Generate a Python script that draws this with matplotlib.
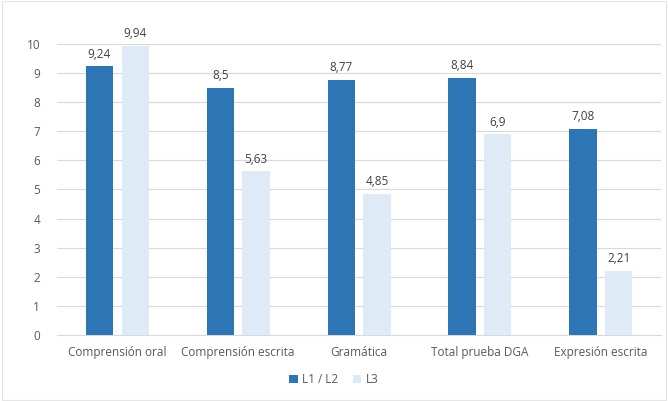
import numpy as np
import matplotlib.pyplot as plt

categories = ['Comprensión oral', 'Comprensión escrita', 'Gramática',
              'Total prueba DGA', 'Expresión escrita']
l1_l2 = [9.24, 8.5, 8.77, 8.84, 7.08]
l3 = [9.94, 5.63, 4.85, 6.9, 2.21]
series_names = ['L1 / L2', 'L3']

plt.rcParams['font.family'] = ['Open Sans', 'DejaVu Sans']
text_color = '#595959'

fig = plt.figure(figsize=(6.68, 4.01), dpi=100)
ax = fig.add_axes([0.085, 0.165, 0.905, 0.725])

x = np.arange(len(categories))
w = 0.225
off = 0.148
b1 = ax.bar(x - off, l1_l2, w, color='#2E75B6', label=series_names[0], zorder=3)
b2 = ax.bar(x + off, l3, w, color='#DEEBF7', label=series_names[1], zorder=3)

def fmt(v):
    return ('%g' % v).replace('.', ',')

for bars, vals in ((b1, l1_l2), (b2, l3)):
    for rect, v in zip(bars, vals):
        ax.annotate(fmt(v), (rect.get_x() + rect.get_width() / 2, v),
                    xytext=(0, 4), textcoords='offset points',
                    ha='center', va='bottom', fontsize=8.5, color='#404040')

ax.set_xlim(-0.5, len(categories) - 0.5)
ax.set_ylim(0, 10)
ax.set_yticks(range(0, 11))
ax.set_xticks(x)
ax.set_xticklabels(categories)
ax.yaxis.grid(True, color='#D9D9D9', linewidth=0.8, zorder=0)
ax.tick_params(axis='both', length=0, colors=text_color, labelsize=8.5)
ax.tick_params(axis='x', pad=8)
ax.tick_params(axis='y', pad=12)
for side in ['top', 'right', 'left']:
    ax.spines[side].set_visible(False)
ax.spines['bottom'].set_color('#D9D9D9')

leg = fig.legend(loc='lower center', bbox_to_anchor=(0.5, 0.01), ncol=2,
                 frameon=False, fontsize=8.5, handlelength=0.7, handleheight=0.7,
                 columnspacing=1.2, handletextpad=0.4)
for t in leg.get_texts():
    t.set_color(text_color)

fig.patches.append(plt.Rectangle((0.003, 0.003), 0.994, 0.994, transform=fig.transFigure,
                                 fill=False, edgecolor='#E5E5E5', linewidth=0.8))

fig.savefig('out.png', dpi=100)
